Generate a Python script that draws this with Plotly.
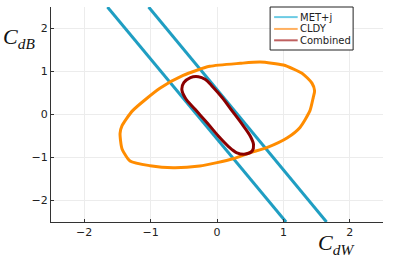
import plotly.graph_objects as go

# MET+j: two parallel boundary lines (separated by None)
met_x = [-1.65, 1.04, None, -1.03, 1.65]
met_y = [2.5, -2.5, None, 2.5, -2.5]

# CLDY contour
cldy_x = [0.35, 0.65, 1.00, 1.28, 1.43, 1.47, 1.45, 1.40, 1.25, 1.06, 0.75, 0.50, 0.24, 0.00,
          -0.26, -0.66, -1.01, -1.31, -1.43, -1.46, -1.43, -1.27, -0.86, -0.51, -0.11, 0.35]
cldy_y = [1.19, 1.22, 1.15, 0.96, 0.73, 0.55, 0.40, 0.09, -0.30, -0.54, -0.77, -0.89, -1.03, -1.12,
          -1.20, -1.24, -1.19, -1.08, -0.80, -0.44, -0.26, 0.09, 0.61, 0.91, 1.12, 1.19]

# Combined contour
comb_x = [-0.40, -0.28, -0.18, -0.08, 0.08, 0.23, 0.38, 0.50, 0.55, 0.53, 0.43, 0.30,
          0.17, 0.02, -0.15, -0.33, -0.48, -0.53, -0.50, -0.40]
comb_y = [0.86, 0.88, 0.82, 0.67, 0.39, 0.08, -0.23, -0.50, -0.70, -0.85, -0.92, -0.89,
          -0.74, -0.50, -0.19, 0.12, 0.39, 0.59, 0.74, 0.86]

tick_vals = [-2, -1, 0, 1, 2]
names = ["MET+j", "CLDY", "Combined"]
colors = ["#1f9ec2", "#ff8c00", "#8b0000"]
legend_colors = ["#6ccbe4", "#ffb060", "#bf6060"]

fig = go.Figure()
fig.add_trace(go.Scatter(x=met_x, y=met_y, mode="lines", name=names[0],
                         line=dict(color=colors[0], width=3),
                         showlegend=False, connectgaps=False))
fig.add_trace(go.Scatter(x=cldy_x, y=cldy_y, mode="lines", name=names[1],
                         line=dict(color=colors[1], width=3, shape="spline", smoothing=0.6),
                         showlegend=False))
fig.add_trace(go.Scatter(x=comb_x, y=comb_y, mode="lines", name=names[2],
                         line=dict(color=colors[2], width=3, shape="spline", smoothing=1.0),
                         showlegend=False))

axis_common = dict(
    tickvals=tick_vals, ticks="inside", ticklen=3, tickcolor="#333",
    showline=True, linecolor="#333", linewidth=1, mirror=False,
    showgrid=True, gridcolor="#ececec", gridwidth=1, zeroline=False,
    tickfont=dict(family="DejaVu Sans", size=11, color="#222"),
)
fig.update_xaxes(range=[-2.5, 2.5], **axis_common)
fig.update_yaxes(range=[-2.5, 2.5], **axis_common)

# Compact legend drawn in paper coordinates
leg_x0, leg_x1, leg_y0, leg_y1 = 0.66, 0.91, 0.80, 1.0
row_y = [0.953, 0.898, 0.845]
shapes = [dict(type="rect", xref="paper", yref="paper", x0=leg_x0, x1=leg_x1,
               y0=leg_y0, y1=leg_y1, line=dict(color="#222", width=1), fillcolor="white",
               layer="above")]
annotations = []
for n, c, ry in zip(names, legend_colors, row_y):
    shapes.append(dict(type="line", xref="paper", yref="paper", x0=0.672, x1=0.743,
                       y0=ry, y1=ry, line=dict(color=c, width=2), layer="above"))
    annotations.append(dict(text=n, xref="paper", yref="paper", x=0.745, y=ry,
                            xanchor="left", yanchor="middle", showarrow=False,
                            font=dict(family="DejaVu Sans", size=10, color="#222")))

annotations += [
    dict(text="<i>C</i><sub><i>dB</i></sub>", xref="paper", yref="paper",
         x=-0.152, y=0.93, xanchor="left", yanchor="top", showarrow=False,
         font=dict(family="Liberation Serif", size=22, color="#111")),
    dict(text="<i>C</i><sub><i>dW</i></sub>", xref="paper", yref="paper",
         x=0.797, y=-0.03, xanchor="left", yanchor="top", showarrow=False,
         font=dict(family="Liberation Serif", size=22, color="#111")),
]

fig.update_layout(
    width=399, height=266,
    margin=dict(l=51, r=16, t=7, b=44),
    plot_bgcolor="white", paper_bgcolor="white",
    showlegend=False,
    shapes=shapes,
    annotations=annotations,
)

fig.write_html("out.html", config={"displayModeBar": False},
               post_script="document.body.style.margin='0px';")
